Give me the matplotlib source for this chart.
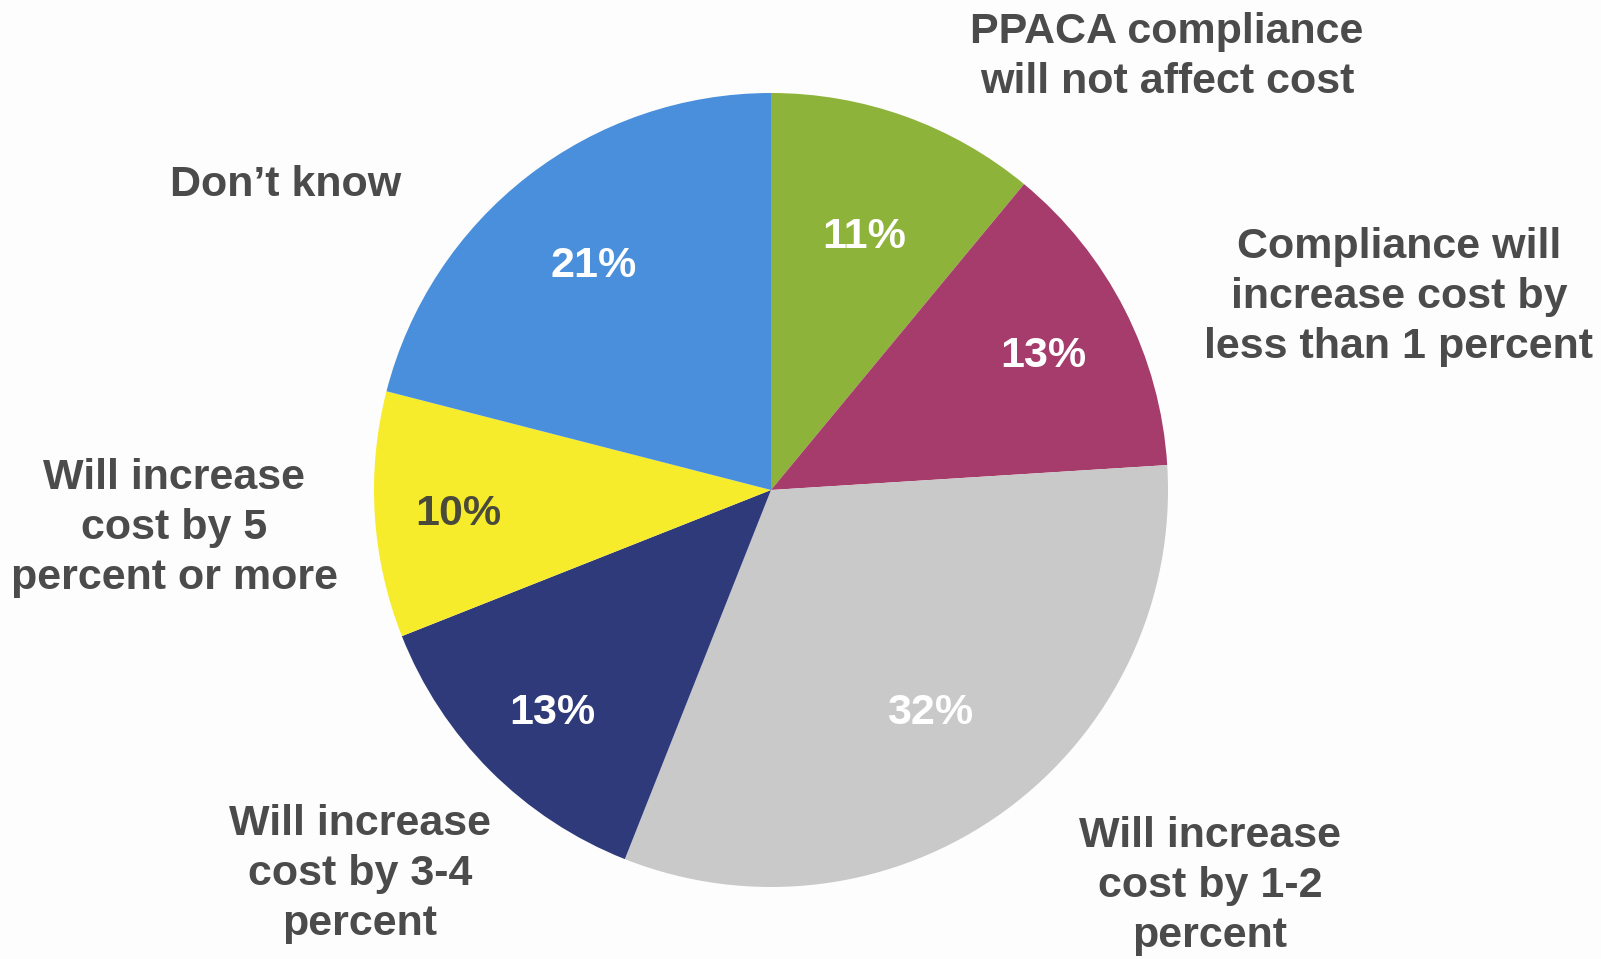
import numpy as np
import matplotlib.pyplot as plt

# Survey answers, clockwise from 12 o'clock
categories = [
    "PPACA compliance\nwill not affect cost",
    "Compliance will\nincrease cost by\nless than 1 percent",
    "Will increase\ncost by 1-2\npercent",
    "Will increase\ncost by 3-4\npercent",
    "Will increase\ncost by 5\npercent or more",
    "Don\u2019t know",
]
shares = [11, 13, 32, 13, 10, 21]
colors = ["#8db33a", "#a53c6b", "#c9c9c9", "#2f3a7a", "#f7ec2c", "#4a8fdb"]
pct_colors = ["white", "white", "white", "white", "#4a4a3a", "white"]
pct_dist = [0.69, 0.77, 0.68, 0.78, 0.79, 0.73]

# where the category labels sit (pixel coords, top-left origin)
label_pos = [(1167, 57), (1399, 297), (1210, 886), (360, 874), (174, 528), (286, 185)]

W, H = 1601, 959
plt.rcParams['font.family'] = ['Liberation Sans', 'DejaVu Sans']

fig = plt.figure(figsize=(W / 100, H / 100), dpi=100, facecolor="#fdfdfd")
ax = fig.add_axes([0, 0, 1, 1])

cx, cy, r = 771, H - 490, 397
wedges, _ = ax.pie(shares, colors=colors, startangle=90, counterclock=False,
                   center=(cx, cy), radius=r, frame=True,
                   wedgeprops=dict(linewidth=0))
ax.set_xlim(0, W)
ax.set_ylim(0, H)
ax.set_aspect("equal")
ax.axis("off")

for w, v, c, d in zip(wedges, shares, pct_colors, pct_dist):
    ang = np.deg2rad((w.theta1 + w.theta2) / 2)
    ax.text(cx + d * r * np.cos(ang), cy + d * r * np.sin(ang), f"{v}%",
            ha="center", va="center_baseline", fontsize=31, fontweight="bold", color=c)

for lab, (x, y) in zip(categories, label_pos):
    ax.text(x, H - y, lab, ha="center", va="center", fontsize=31,
            fontweight="bold", color="#4b4b4b", linespacing=1.32)

fig.savefig("out.png", dpi=100, facecolor=fig.get_facecolor())
